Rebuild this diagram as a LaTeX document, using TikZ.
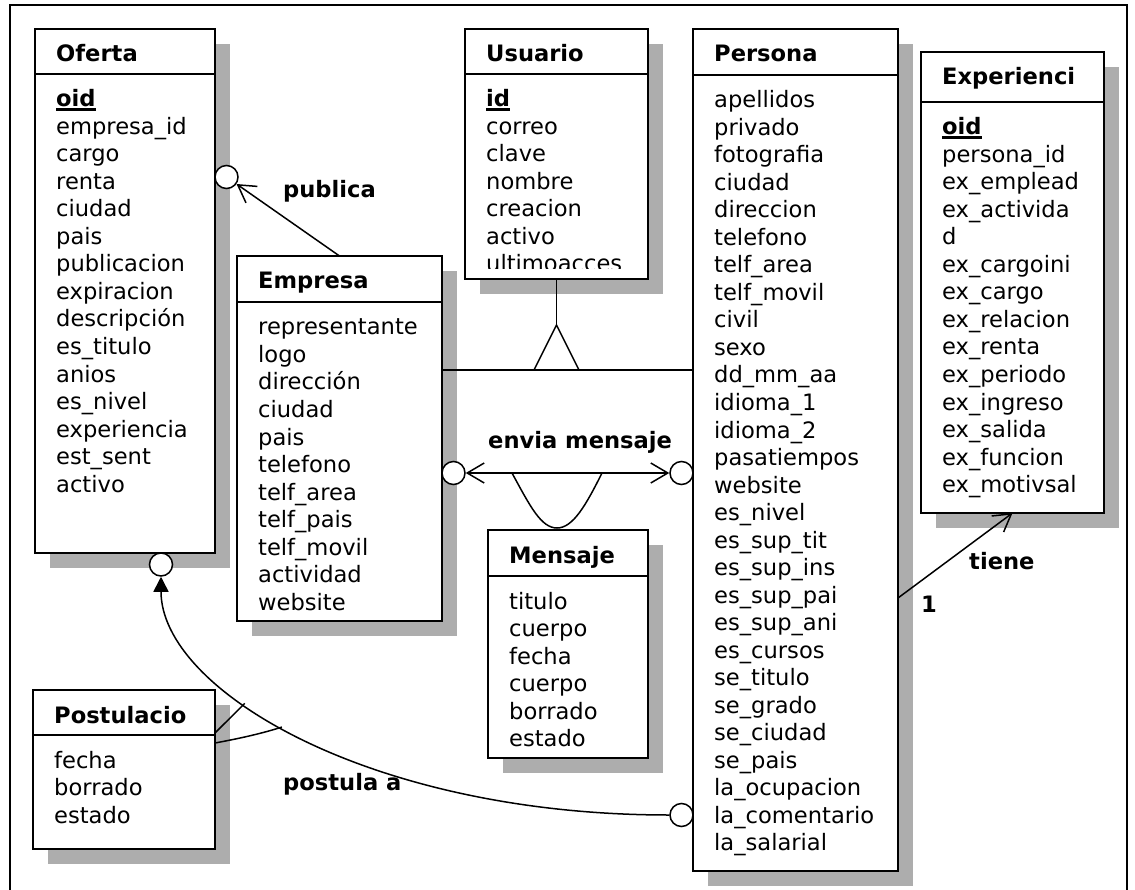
\documentclass[tikz,border=0pt]{standalone}
\usepackage{fontspec}
\setmainfont{DejaVu Sans}
\usetikzlibrary{arrows.meta,calc}
\pgfdeclarelayer{shadowlayer}
\pgfdeclarelayer{connlayer}
\pgfsetlayers{shadowlayer,connlayer,main}
\newcommand\ulattr[1]{\setbox0\hbox{#1}\rlap{\rule[-3.6pt]{\wd0}{2.2pt}}\box0}
\tikzset{
  shadowfill/.style={fill=black!32},
  ebox/.style={draw, fill=white, line width=1.8pt, rectangle, inner sep=0pt, outer sep=0pt},
  boxline/.style={line width=1.8pt},
  etitle/.style={anchor=base west, inner sep=0pt, font=\fontsize{22.6}{27.5}\selectfont\bfseries},
  attr/.style={anchor=base west, inner sep=0pt, font=\fontsize{22.6}{27.5}\selectfont},
  lbl/.style={anchor=base west, inner sep=0pt, font=\fontsize{22.6}{27.5}\selectfont\bfseries},
  conn/.style={line width=1.5pt},
  circ/.style={draw, circle, fill=white, minimum size=23pt, inner sep=0pt, line width=1.5pt},
}
\newcommand\entity[8]{%
  \begin{pgfonlayer}{shadowlayer}
  \fill[shadowfill] (#2+15,#3+15) rectangle (#4+15,#5+15);
  \end{pgfonlayer}
  \node[ebox, minimum width={(#4-#2)*1pt}, minimum height={(#5-#3)*1pt}] (#1) at ({(#2+#4)/2},{(#3+#5)/2}) {};
  \draw[boxline] (#2,#6) -- (#4,#6);
  \node[etitle] (#1-title) at (#2+21,#3+33) {#7};
  \foreach \t [count=\i from 0] in {#8} \node[attr] (#1-a\i) at (#2+21,{#6+33+\i*27.5}) {\t};
}
\begin{document}
\begin{tikzpicture}[x=1pt,y=-1pt]
\useasboundingbox (0,0) rectangle (1135,890);
\clip (0,0) rectangle (1135,890);
\begin{pgfonlayer}{shadowlayer}
\fill[white] (0,0) rectangle (1135,890);
\draw[line width=2pt] (10,5) rectangle (1127,905);
\end{pgfonlayer}

\entity{oferta}{35}{29}{215}{553}{74}{Oferta}{\ulattr{\textbf{oid}},empresa\_id,cargo,renta,ciudad,pais,publicacion,expiracion,descripción,es\_titulo,anios,es\_nivel,experiencia,est\_sent,activo}
\entity{usuario}{465}{29}{648}{279}{74}{Usuario}{\ulattr{\textbf{id}},correo,clave,nombre,creacion,activo}
\begin{scope}
  \clip (466,75) rectangle (647,269);
  \node[attr] (usuario-a6) at (486,272) {ultimoacces};
\end{scope}
\entity{persona}{693}{29}{898}{871}{75}{Persona}{apellidos,privado,fotografia,ciudad,direccion,telefono,telf\_area,telf\_movil,civil,sexo,dd\_mm\_aa,idioma\_1,idioma\_2,pasatiempos,website,es\_nivel,es\_sup\_tit,es\_sup\_ins,es\_sup\_pai,es\_sup\_ani,es\_cursos,se\_titulo,se\_grado,se\_ciudad,se\_pais,la\_ocupacion,la\_comentario,la\_salarial}
\entity{experiencia}{921}{52}{1104}{513}{102}{Experienci}{\ulattr{\textbf{oid}},persona\_id,ex\_emplead,ex\_activida,d,ex\_cargoini,ex\_cargo,ex\_relacion,ex\_renta,ex\_periodo,ex\_ingreso,ex\_salida,ex\_funcion,ex\_motivsal}
\entity{empresa}{237}{256}{442}{621}{302}{Empresa}{representante,logo,dirección,ciudad,pais,telefono,telf\_area,telf\_pais,telf\_movil,actividad,website}
\entity{mensaje}{488}{530}{648}{758}{576}{Mensaje}{titulo,cuerpo,fecha,cuerpo,borrado,estado}
\entity{postulacio}{33}{690}{215}{849}{735}{Postulacio}{fecha,borrado,estado}

% circles
\node[circ] (co1) at (226.5,177) {};
\node[circ] (co2) at (161,564.5) {};
\node[circ] (ce1) at (453.5,473) {};
\node[circ] (ce2) at (681.5,473) {};
\node[circ] (cp) at (681.5,815) {};

% labels
\node[lbl] (lpublica) at (283,198) {publica};
\node[lbl] (lenvia) at (488,448) {envia mensaje};
\node[lbl] (ltiene) at (969,569) {tiene};
\node[lbl] (lone) at (921,612) {1};
\node[lbl] (lpostula) at (283,790) {postula a};

\begin{pgfonlayer}{connlayer}
% publica
\draw[conn, -{Straight Barb[length=17pt,width=20pt]}] (empresa.north) -- (co1);

% inheritance
\coordinate (genapex) at (556.5,325);
\coordinate (genbase) at (556.5,370);
\draw[conn] (usuario.south) -- (genapex);
\draw[conn, line join=miter] (genapex) -- ($(genbase)+(-22.5,0)$) -- ($(genbase)+(22.5,0)$) -- cycle;
\draw[conn] (empresa.east |- genbase) -- (persona.west |- genbase);

% envia mensaje
\draw[conn, {Straight Barb[length=17pt,width=20pt]}-{Straight Barb[length=17pt,width=20pt]}] (ce1) -- (ce2);
\coordinate (uL) at (512,473);
\coordinate (uR) at (602,473);
\coordinate (uB) at (557,528);
\draw[conn] (uL) .. controls (530,506) and (541,528) .. (uB) .. controls (573,528) and (586,505) .. (uR);

% tiene
\coordinate (tS) at ($(persona.north east)+(0,569)$);
\draw[conn, -{Straight Barb[length=17pt,width=20pt]}] (tS) -- (experiencia.south);

% postula a
\draw[conn, -{Triangle[length=15pt,width=15pt]}] (cp.west) .. controls +(-300,0) and +(0,113) .. (co2.south)
  coordinate[pos=0.62] (pj1) coordinate[pos=0.54] (pj2);
\draw[conn] ($(postulacio.north east)+(0,43)$) -- (pj1);
\draw[conn] ($(postulacio.north east)+(0,53)$) .. controls +(16,-3) and +(-25,8) .. (pj2);
\end{pgfonlayer}
\end{tikzpicture}
\end{document}
